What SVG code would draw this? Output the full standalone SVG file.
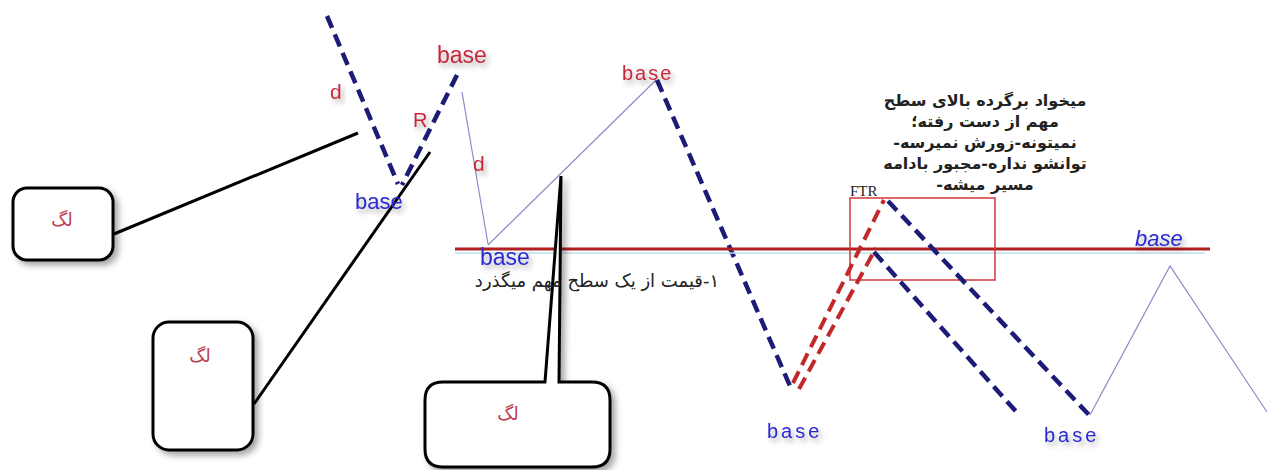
<svg xmlns="http://www.w3.org/2000/svg" width="1267" height="470" viewBox="0 0 1267 470">
<defs>
<filter id="sh" x="-30%" y="-30%" width="160%" height="160%">
<feDropShadow dx="4" dy="4" stdDeviation="3" flood-color="#000" flood-opacity="0.35"/>
</filter>
<filter id="tsh" x="-30%" y="-30%" width="160%" height="180%">
<feDropShadow dx="3" dy="4" stdDeviation="2.5" flood-color="#000" flood-opacity="0.3"/>
</filter>
</defs>
<style>
.navy{fill:none;stroke:#1c1c78;stroke-width:4.5;stroke-dasharray:13 7}
.reddash{fill:none;stroke:#c0282a;stroke-width:4;stroke-dasharray:13 7}
.thin{fill:none;stroke:#8a8ac8;stroke-width:1.2}
.blk{fill:none;stroke:#000;stroke-width:3}
.box{fill:#fff;stroke:#000;stroke-width:3;filter:url(#sh)}
.lag{font-family:"DejaVu Sans",sans-serif;font-size:18px;fill:#c04050;text-anchor:middle}
.rl{font-family:"Liberation Sans",Arial,sans-serif;fill:#c82838;filter:url(#tsh)}
.bl{font-family:"Liberation Sans",Arial,sans-serif;fill:#2a2ad0;filter:url(#tsh)}
.fa{font-family:"DejaVu Sans",sans-serif;font-size:16px;fill:#222;text-anchor:middle;font-weight:bold}
.fa2{font-family:"DejaVu Sans",sans-serif;font-size:18px;fill:#222;text-anchor:middle}
</style>

<g id="connectors">
<line class="navy" x1="327" y1="16" x2="398" y2="184"/>
<line class="navy" x1="457" y1="75" x2="402" y2="185"/>
<line class="blk" x1="358" y1="133" x2="114" y2="234"/>
<line class="blk" x1="430" y1="152" x2="254" y2="404"/>
<line class="thin" x1="462" y1="92" x2="488" y2="244"/>
<line class="thin" x1="488" y1="245" x2="656" y2="80"/>
<line class="navy" x1="657" y1="80" x2="790" y2="386"/>
<line x1="455" y1="249" x2="1210" y2="249" stroke="#b02020" stroke-width="3"/>
<line x1="455" y1="253" x2="1205" y2="253" stroke="#b8e0e8" stroke-width="1.5"/>
<rect x="850" y="198" width="145" height="82" fill="none" stroke="#d03838" stroke-width="1.5"/>
<line class="reddash" x1="793" y1="383" x2="884" y2="200"/>
<line class="reddash" x1="799" y1="389" x2="876" y2="248"/>
<line class="navy" x1="874" y1="252" x2="1020" y2="416"/>
<line class="navy" x1="888" y1="201" x2="1089" y2="415"/>
<polyline class="thin" points="1090,415 1170,266 1267,412"/>
</g>

<g id="box1">
<rect class="box" x="13" y="188" width="100" height="72" rx="14"/>
<text class="lag" x="62" y="226">لگ</text>
</g>
<g id="box2">
<rect class="box" x="153" y="322" width="100" height="128" rx="16"/>
<text class="lag" x="200" y="362">لگ</text>
</g>
<g id="box3">
<path class="box" d="M443,382 L545,382 L561,176 L559,382 L592,382 Q610,382 610,400 L610,449 Q610,467 592,467 L443,467 Q425,467 425,449 L425,400 Q425,382 443,382 Z"/>
<text class="lag" x="508" y="420">لگ</text>
</g>

<g id="labels">
<text class="rl" x="330" y="99" font-size="21">d</text>
<text class="rl" x="413" y="127" font-size="20">R</text>
<text class="rl" x="437" y="63" font-size="23">base</text>
<text class="bl" x="355" y="209" font-size="22">base</text>
<text class="rl" x="473" y="171" font-size="21">d</text>
<text class="rl" x="622" y="80" font-size="20" letter-spacing="2">base</text>
<text class="bl" x="480" y="265" font-size="23">base</text>
<text class="fa2" x="597" y="287" direction="rtl">۱-قیمت از یک سطح مهم میگذرد</text>
<text class="bl" x="1135" y="246" font-size="22" font-style="italic">base</text>
<text class="bl" x="767" y="438" font-size="20" letter-spacing="3">base</text>
<text class="bl" x="1044" y="442" font-size="20" letter-spacing="3">base</text>
</g>

<g id="note">
<text class="fa" x="985" y="106" direction="rtl">میخواد برگرده بالای سطح</text>
<text class="fa" x="985" y="127" direction="rtl">مهم از دست رفته؛</text>
<text class="fa" x="985" y="148" direction="rtl">نمیتونه-زورش نمیرسه-</text>
<text class="fa" x="985" y="169" direction="rtl">توانشو نداره-مجبور بادامه</text>
<text class="fa" x="985" y="190" direction="rtl">مسیر میشه-</text>
<text x="850" y="196" font-family="Liberation Serif,serif" font-size="15" fill="#222">FTR</text>
</g>
</svg>
